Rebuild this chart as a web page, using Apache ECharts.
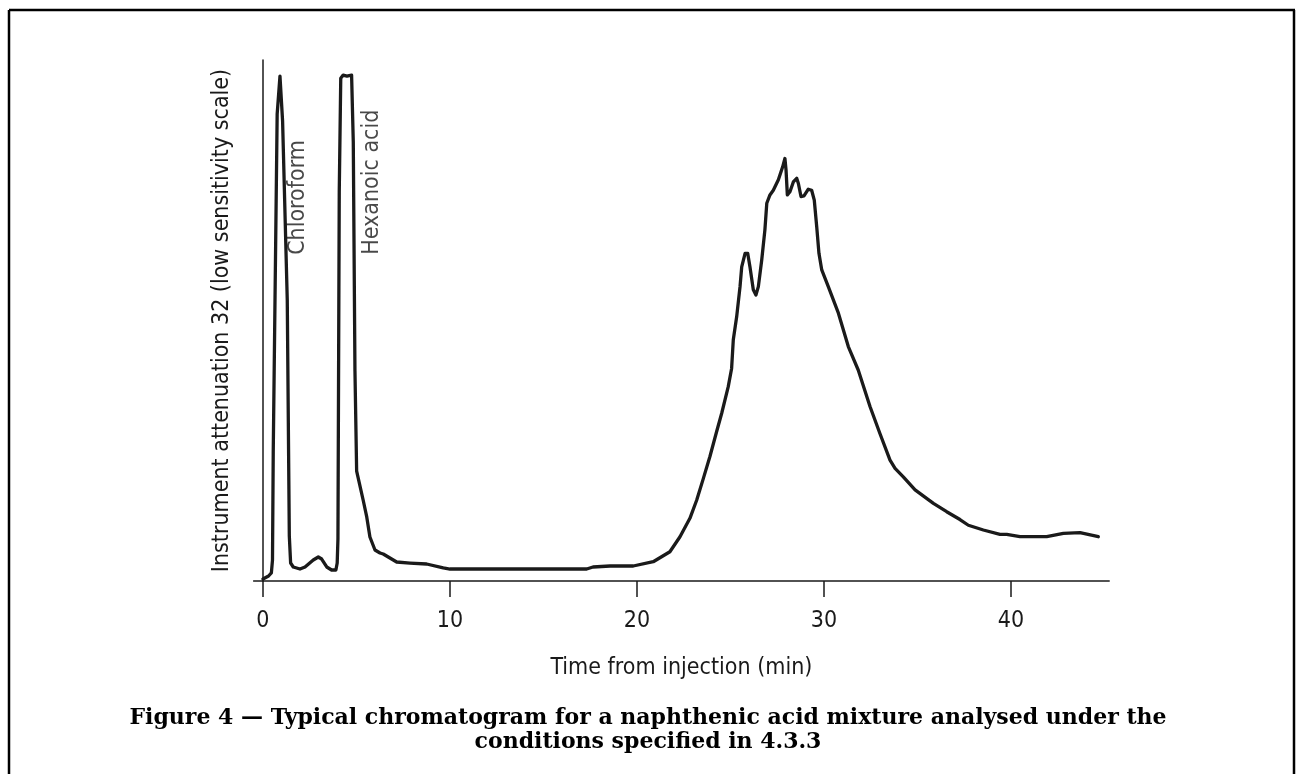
<!DOCTYPE html>
<html><head><meta charset="utf-8">
<script src="https://cdn.jsdelivr.net/npm/echarts@6/dist/echarts.min.js"></script>
<style>html,body{margin:0;padding:0;background:#fff}#c{width:1296px;height:774px}</style>
</head><body><div id="c"></div><script>
// Time from injection (min)
const timeMin = [0, 0.30, 0.45, 0.51, 0.55, 0.76, 0.91, 1.00, 1.05, 1.30, 1.41, 1.48, 1.62, 1.98, 2.25, 2.69, 2.96, 3.14, 3.41, 3.67, 3.90, 3.97, 4.01, 4.08, 4.16, 4.29, 4.49, 4.74, 4.83, 4.92, 5.01, 5.36, 5.55, 5.72, 5.99, 6.26, 6.43, 7.15, 7.86, 8.75, 9.64, 10.0, 11.23, 17.31, 17.65, 18.56, 19.80, 20.87, 21.76, 22.30, 22.83, 23.19, 23.55, 23.90, 24.26, 24.53, 24.88, 25.06, 25.15, 25.33, 25.51, 25.60, 25.78, 25.92, 26.04, 26.22, 26.36, 26.49, 26.67, 26.84, 26.94, 27.11, 27.29, 27.56, 27.79, 27.91, 27.97, 28.04, 28.18, 28.36, 28.54, 28.63, 28.77, 28.93, 29.16, 29.34, 29.48, 29.61, 29.73, 29.88, 30.23, 30.77, 31.30, 31.83, 32.46, 32.99, 33.53, 33.80, 34.24, 34.87, 35.85, 36.56, 37.27, 37.72, 38.52, 39.41, 39.77, 40.48, 41.91, 42.80, 43.69, 44.67];
// Detector response (relative, % of full scale)
const response = [0.4, 0.96, 1.54, 4.0, 24.6, 89.6, 96.9, 96.9, 88.3, 53.9, 8.6, 3.45, 2.69, 2.30, 2.69, 4.03, 4.61, 4.22, 2.69, 2.11, 2.11, 3.45, 8.06, 74.7, 96.5, 97.1, 96.9, 97.1, 84.3, 40.3, 21.1, 15.5, 12.3, 8.45, 5.95, 5.37, 5.18, 3.65, 3.45, 3.26, 2.50, 2.30, 2.30, 2.30, 2.69, 2.88, 2.88, 3.70, 5.62, 8.50, 12.03, 15.5, 19.7, 23.9, 28.7, 32.2, 37.3, 40.8, 46.3, 50.7, 56.5, 60.3, 62.9, 62.9, 60.3, 55.9, 54.9, 56.5, 61.6, 67.4, 72.5, 74.1, 75.0, 77.0, 79.5, 81.1, 78.9, 74.1, 74.7, 76.6, 77.3, 76.3, 73.8, 73.9, 75.2, 75.0, 73.1, 68.0, 62.9, 59.7, 56.5, 51.4, 45.0, 40.5, 33.5, 28.3, 23.2, 21.6, 20.0, 17.5, 14.9, 13.3, 11.8, 10.7, 9.79, 8.96, 8.96, 8.50, 8.50, 9.16, 9.27, 8.50];
const xTicks = [0, 10, 20, 30, 40];
const peakNames = ['Chloroform', 'Hexanoic acid'];
const peakLabelTime = [1.87, 5.83];
const peakLabelLevel = [62.6, 62.6];
const xTitle = 'Time from injection (min)';
const yTitle = 'Instrument attenuation 32 (low sensitivity scale)';
const captionLines = ['Figure 4 \u2014 Typical chromatogram for a naphthenic acid mixture analysed under the', 'conditions specified in 4.3.3'];

const sans = "'Liberation Sans Narrow','DejaVu Sans Condensed','Roboto Condensed',Roboto,sans-serif";
const ink = '#1a1a1a';
const chart = echarts.init(document.getElementById('c'), null, {renderer: 'canvas'});
const lineData = timeMin.map((t, i) => [t, response[i]]);
const labelData = peakNames.map((n, i) => ({value: [peakLabelTime[i], peakLabelLevel[i]], name: n}));

chart.setOption({
  backgroundColor: '#fff',
  animation: false,
  grid: {left: 253.6, top: 60, width: 855.6, height: 521, containLabel: false},
  xAxis: {
    type: 'value', min: -0.5, max: 45.25,
    axisLine: {onZero: false, lineStyle: {color: ink, width: 1.5}},
    axisTick: {show: true, customValues: xTicks, length: 16, inside: false, lineStyle: {color: ink, width: 1.5}},
    axisLabel: {customValues: xTicks, margin: 29, color: ink, fontSize: 23, fontFamily: sans},
    splitLine: {show: false},
    name: xTitle, nameLocation: 'middle', nameGap: 76,
    nameTextStyle: {color: ink, fontSize: 23, fontFamily: sans}
  },
  yAxis: {
    type: 'value', min: 0, max: 100,
    axisLine: {show: true, onZero: true, lineStyle: {color: ink, width: 1.5}},
    axisTick: {show: false}, axisLabel: {show: false}, splitLine: {show: false},
    name: yTitle, nameLocation: 'middle', nameGap: 20, nameRotate: 90,
    nameTextStyle: {color: ink, fontSize: 23, fontFamily: sans}
  },
  series: [
    {type: 'line', data: lineData, showSymbol: false, symbol: 'none',
     lineStyle: {color: ink, width: 3.3, join: 'round', cap: 'round'}, z: 3},
    {type: 'scatter', data: labelData, symbolSize: 0,
     label: {show: true, formatter: p => p.name, position: [0, 0], rotate: 90,
             align: 'left', verticalAlign: 'middle', color: ink, fontSize: 23, fontFamily: sans}}
  ],
  graphic: [
    {type: 'line', shape: {x1: 9, y1: 10, x2: 1295, y2: 10}, style: {stroke: '#000', lineWidth: 2.5}},
    {type: 'line', shape: {x1: 9, y1: 10, x2: 9, y2: 774}, style: {stroke: '#000', lineWidth: 2.5}},
    {type: 'line', shape: {x1: 1294, y1: 10, x2: 1294, y2: 774}, style: {stroke: '#000', lineWidth: 2.5}},
    {type: 'text', x: 648, y: 718, style: {text: captionLines[0], align: 'center', verticalAlign: 'middle',
      font: "bold 22px 'DejaVu Serif', serif", fill: '#000'}},
    {type: 'text', x: 648, y: 742, style: {text: captionLines[1], align: 'center', verticalAlign: 'middle',
      font: "bold 22px 'DejaVu Serif', serif", fill: '#000'}}
  ]
});
</script></body></html>
